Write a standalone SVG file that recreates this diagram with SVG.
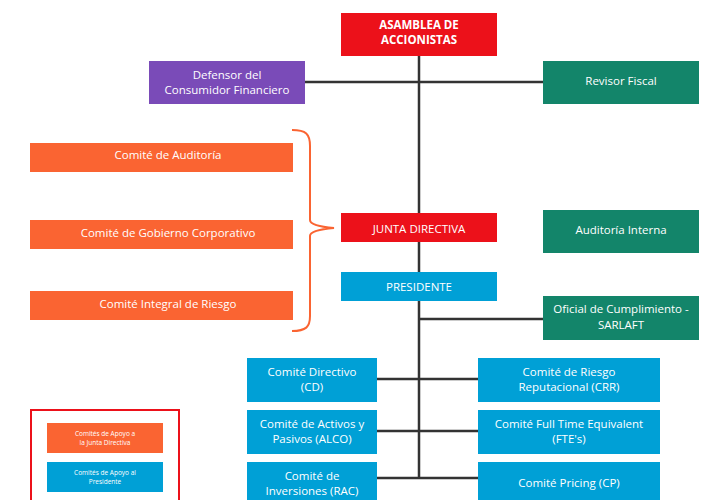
<svg xmlns="http://www.w3.org/2000/svg" width="711" height="500" viewBox="0 0 711 500">
<style>
text{font-family:"Open Sans","Noto Sans","Liberation Sans",sans-serif;font-size:11.5px;fill:#fff;text-anchor:middle}
.b{font-weight:bold}
.s{font-size:6.5px}
.red{fill:#EC111A}.pur{fill:#7A4BB8}.grn{fill:#13856A}.org{fill:#FA6432}.blu{fill:#00A0D6}
.ln{stroke:#333;stroke-width:2.5;fill:none}
</style>
<rect width="711" height="500" fill="#fff"/>
<g id="connectors">
<path class="ln" d="M419,56V478M305,82H543M419,319H543M377,379H478M377,431H478M377,478H478"/>
<path d="M292,130C306,130 310,134 310,146L310,220Q310,226 334,228Q310,230 310,236L310,316C310,327 306,331 292,331" fill="none" stroke="#FA6432" stroke-width="2"/>
</g>
<g id="asamblea"><rect class="red" x="341" y="13" width="156" height="43"/><text class="b" x="419" y="28.5">ASAMBLEA DE</text><text class="b" x="419" y="43.5">ACCIONISTAS</text></g>
<g id="defensor"><rect class="pur" x="149" y="61" width="156" height="43"/><text x="227" y="79">Defensor del</text><text x="227" y="94">Consumidor Financiero</text></g>
<g id="revisor"><rect class="grn" x="543" y="61" width="156" height="43"/><text x="621" y="85">Revisor Fiscal</text></g>
<g id="auditoria"><rect class="org" x="30" y="143" width="263" height="29"/><text x="168" y="159">Comité de Auditoría</text></g>
<g id="gobierno"><rect class="org" x="30" y="220" width="263" height="29"/><text x="168" y="237">Comité de Gobierno Corporativo</text></g>
<g id="riesgo"><rect class="org" x="30" y="291" width="263" height="29"/><text x="168" y="308">Comité Integral de Riesgo</text></g>
<g id="junta"><rect class="red" x="341" y="213" width="156" height="29"/><text x="419" y="233">JUNTA DIRECTIVA</text></g>
<g id="auditoria-interna"><rect class="grn" x="543" y="210" width="156" height="43"/><text x="621" y="234">Auditoría Interna</text></g>
<g id="presidente"><rect class="blu" x="341" y="272" width="156" height="29"/><text x="419" y="291">PRESIDENTE</text></g>
<g id="oficial"><rect class="grn" x="543" y="296" width="156" height="44"/><text x="621" y="313">Oficial de Cumplimiento -</text><text x="621" y="329">SARLAFT</text></g>
<g id="cd"><rect class="blu" x="247" y="358" width="130" height="44"/><text x="312" y="376">Comité Directivo</text><text x="312" y="391">(CD)</text></g>
<g id="alco"><rect class="blu" x="247" y="410" width="130" height="44"/><text x="312" y="427.5">Comité de Activos y</text><text x="312" y="443">Pasivos (ALCO)</text></g>
<g id="rac"><rect class="blu" x="247" y="462" width="130" height="44"/><text x="312" y="480">Comité de</text><text x="312" y="495">Inversiones (RAC)</text></g>
<g id="crr"><rect class="blu" x="478" y="358" width="182" height="44"/><text x="569" y="376">Comité de Riesgo</text><text x="569" y="391">Reputacional (CRR)</text></g>
<g id="fte"><rect class="blu" x="478" y="410" width="182" height="44"/><text x="569" y="427.5">Comité Full Time Equivalent</text><text x="569" y="443">(FTE's)</text></g>
<g id="cp"><rect class="blu" x="478" y="462" width="182" height="44"/><text x="569" y="487">Comité Pricing (CP)</text></g>
<g id="legend"><rect x="31" y="410" width="148" height="100" fill="none" stroke="#EC111A" stroke-width="2"/>
<rect class="org" x="47" y="423" width="116" height="30"/><text class="s" x="105" y="436">Comités de Apoyo a</text><text class="s" x="105" y="445">la Junta Directiva</text>
<rect class="blu" x="47" y="462" width="116" height="30"/><text class="s" x="105" y="475">Comités de Apoyo al</text><text class="s" x="105" y="484">Presidente</text></g>
</svg>
